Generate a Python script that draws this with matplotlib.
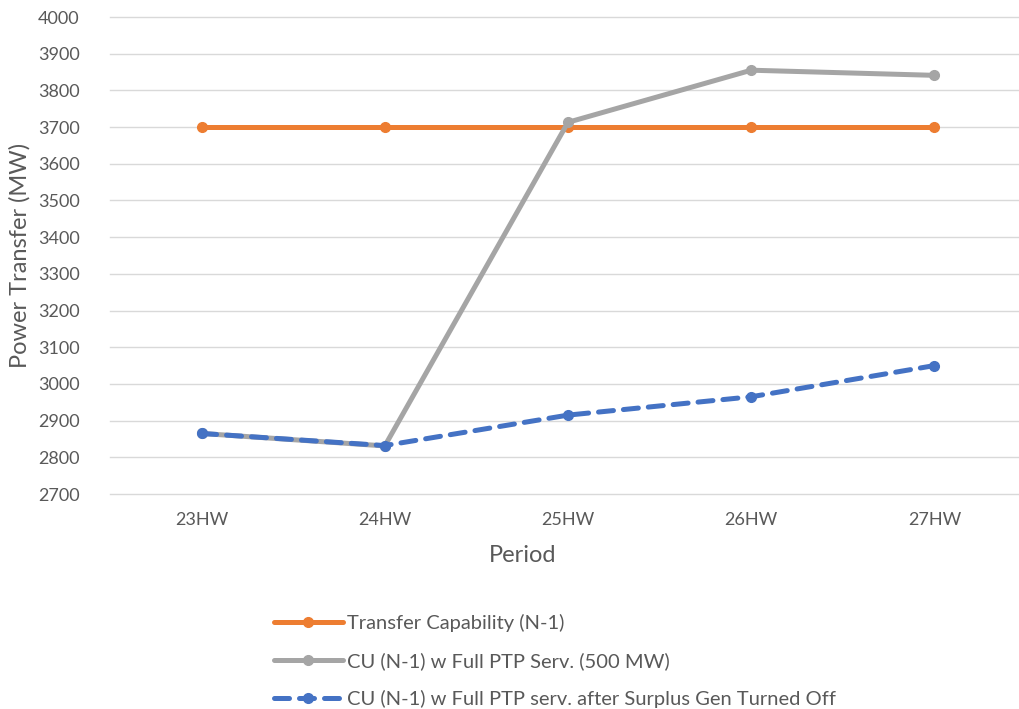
import matplotlib
matplotlib.use("Agg")
import matplotlib.pyplot as plt

periods = ["23HW", "24HW", "25HW", "26HW", "27HW"]
transfer_capability = [3700, 3700, 3700, 3700, 3700]
cu_full_ptp = [2865, 2831, 3713, 3855, 3841]
cu_after_surplus = [2865, 2832, 2915, 2965, 3050]

plt.rcParams['font.family'] = ['Lato', 'DejaVu Sans']

fig = plt.figure(figsize=(10.2, 7.09), dpi=100)
W, H = 1020, 709
left, right, top, bottom = 110, 1026, 17, 494
ax = fig.add_axes([left / W, 1 - bottom / H, (right - left) / W, (bottom - top) / H])

x = list(range(len(periods)))
ax.plot(x, transfer_capability, color='#ED7D31', lw=3.6, marker='o', ms=7,
        label='Transfer Capability (N-1)', solid_capstyle='round', zorder=3)
ax.plot(x, cu_full_ptp, color='#A5A5A5', lw=3.6, marker='o', ms=7,
        label='CU (N-1) w Full PTP Serv. (500 MW)', solid_capstyle='round', zorder=4)
ax.plot(x, cu_after_surplus, color='#4472C4', lw=3.6, marker='o', ms=7,
        linestyle=(0, (3, 2)), dash_capstyle='round',
        label='CU (N-1) w Full PTP serv. after Surplus Gen Turned Off', zorder=5)

ax.set_xlim(-0.5, 4.5)
ax.set_ylim(2700, 4000)
ax.set_yticks(range(2700, 4001, 100))
ax.set_xticks(x)
ax.set_xticklabels(periods)
ax.grid(axis='y', color='#D9D9D9', lw=1)
for g in ax.get_ygridlines():
    g.set_clip_on(False)
ax.set_axisbelow(True)
for s in ax.spines.values():
    s.set_visible(False)
ax.tick_params(length=0, colors='#595959', labelsize=13)
ax.tick_params(axis='y', pad=22)
ax.tick_params(axis='x', pad=13)

fig.text(523 / W, 1 - 556 / H, 'Period', ha='center', va='center', fontsize=17, color='#595959')
fig.text(20 / W, 1 - 255 / H, 'Power Transfer (MW)', ha='center', va='center',
         rotation=90, fontsize=17, color='#595959')

leg = fig.legend(loc='upper left', bbox_to_anchor=(256 / W, 1 - 596 / H), frameon=False,
                 fontsize=14.5, handlelength=3.4, labelspacing=1.0, handletextpad=0.2,
                 labelcolor='#595959')

fig.savefig('out.png', dpi=100)
